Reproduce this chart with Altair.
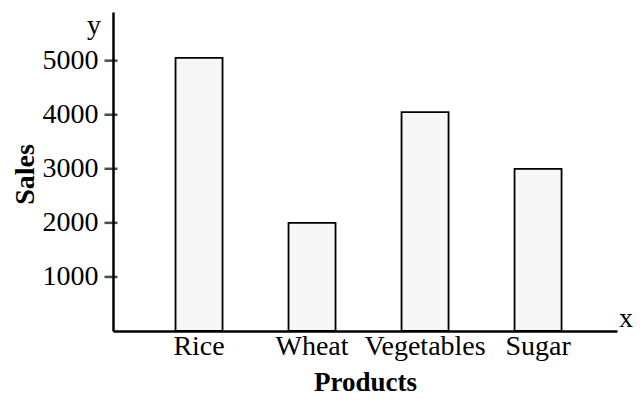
import altair as alt
import pandas as pd

products = ["Rice", "Wheat", "Vegetables", "Sugar"]
sales = [5050, 2000, 4050, 3000]
y_ticks = [1000, 2000, 3000, 4000, 5000]

df = pd.DataFrame({"Products": products, "Sales": sales})
ticks_df = pd.DataFrame({"t": y_ticks})

W, H = 504, 319
FONT = "Liberation Serif"
FS = 28

x_scale = alt.Scale(domain=products, paddingInner=0.584, paddingOuter=0.522, align=0.53)
y_scale = alt.Scale(domain=[0, 5900], nice=False)

bars = alt.Chart(df).mark_bar(
    fill="#f7f7f7", stroke="black", strokeWidth=1.8
).encode(
    x=alt.X("Products:N", scale=x_scale, sort=products,
            axis=alt.Axis(title="Products", labelAngle=0, labelFont=FONT,
                          labelFontSize=FS, labelColor="black", labelPadding=1,
                          ticks=False, domainColor="black", domainWidth=2.5,
                          titleFont=FONT, titleFontSize=27, titleFontWeight="bold",
                          titleColor="black", titlePadding=9)),
    y=alt.Y("Sales:Q", scale=y_scale,
            axis=alt.Axis(title="Sales", values=y_ticks, format="d", grid=False,
                          ticks=False, labelFont=FONT, labelFontSize=FS,
                          labelColor="black", labelPadding=15,
                          domainColor="black", domainWidth=2.5,
                          titleFont=FONT, titleFontSize=FS, titleFontWeight="bold",
                          titleColor="black", titleX=-88, titleY=162,
                          titleAlign="center", titleBaseline="middle")),
)

tick_marks = alt.Chart(ticks_df).mark_tick(
    color="black", thickness=2.5, size=13, orient="horizontal"
).encode(
    y=alt.Y("t:Q", scale=y_scale),
    x=alt.value(-2),
)

xlab = alt.Chart(pd.DataFrame({"l": ["x"]})).mark_text(
    font=FONT, fontSize=FS, align="left", baseline="middle", color="black"
).encode(text="l:N", x=alt.value(W + 2), y=alt.value(H - 12))

ylab = alt.Chart(pd.DataFrame({"l": ["y"]})).mark_text(
    font=FONT, fontSize=FS, align="right", baseline="alphabetic", color="black"
).encode(text="l:N", x=alt.value(-12), y=alt.value(22))

chart = alt.layer(bars, tick_marks, xlab, ylab).properties(
    width=W, height=H,
    background="white",
    autosize=alt.AutoSizeParams(type="none"),
    padding={"left": 105, "top": 4, "right": 18, "bottom": 64},
).configure_view(strokeWidth=0, stroke="transparent")

chart.save("out.html", embed_options={"renderer": "svg", "actions": False})
